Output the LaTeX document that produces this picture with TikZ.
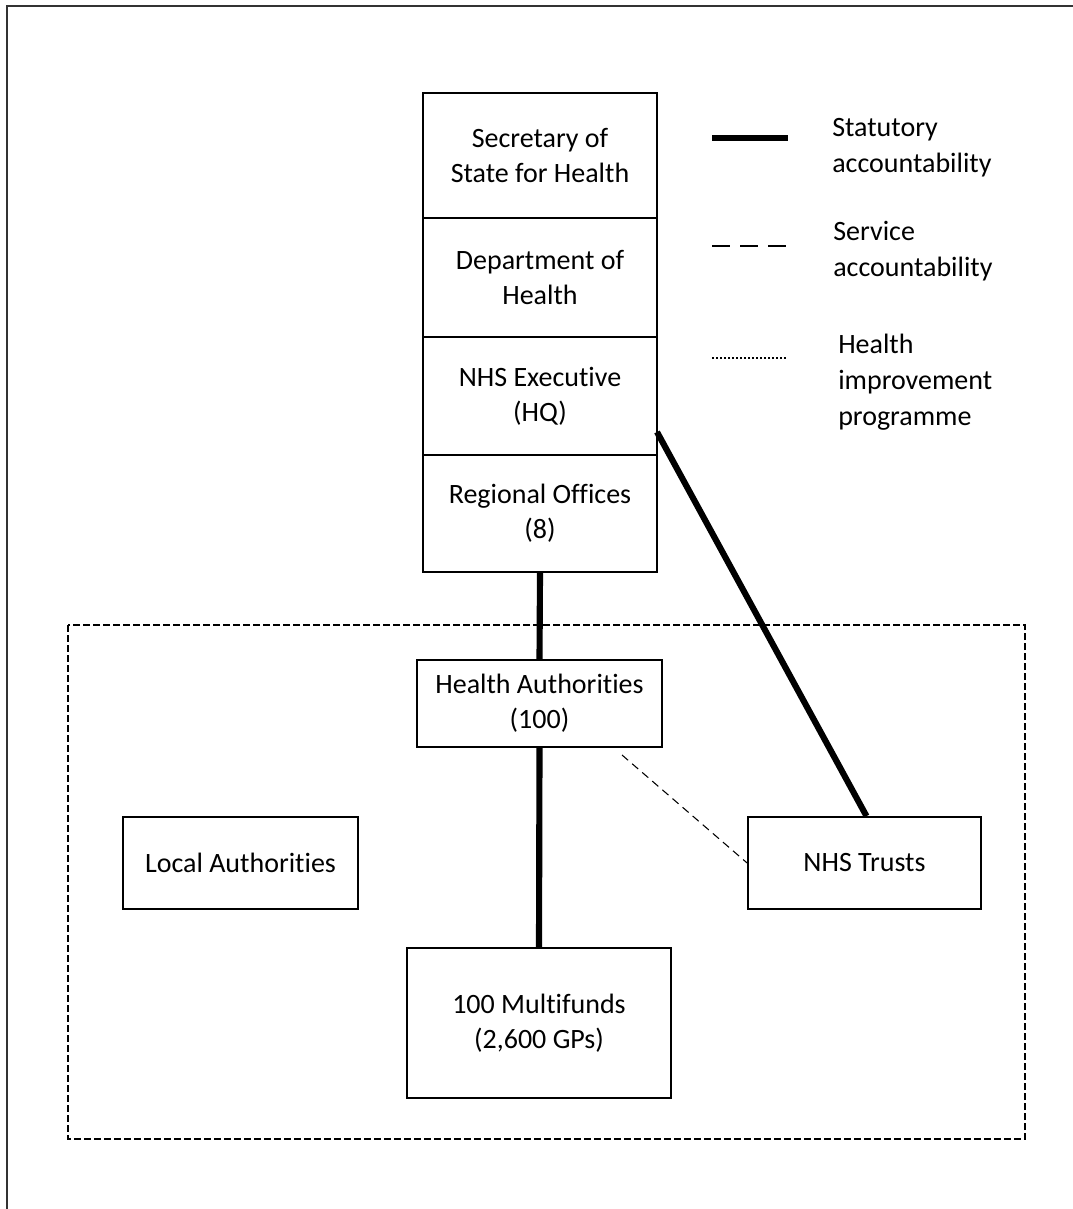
\documentclass[tikz,border=0pt]{standalone}
\usepackage{fontspec}
\setmainfont{Carlito}[Ligatures={NoCommon}]
\usetikzlibrary{calc}
\tikzset{
  box/.style={draw, line width=1.3pt, align=center, inner sep=0pt,
    font=\fontsize{21}{26.5}\selectfont},
  thickline/.style={line width=4.6pt},
  servline/.style={line width=0.8pt, dash pattern=on 6pt off 4pt},
  legtext/.style={anchor=west, align=left, inner sep=0pt,
    font=\fontsize{21}{27}\selectfont},
}
\begin{document}
\begin{tikzpicture}[x=0.75pt, y=-0.75pt]
\useasboundingbox (0,0) rectangle (1072,1209);
% outer frame (left and top edges visible)
\draw[line width=1.4pt, black!80] (7,1215) -- (7,6) -- (1080,6);
% big dashed region
\draw[line width=1.6pt, dash pattern=on 5pt off 2.5pt] (68,625) rectangle (1025,1139);
% stack
\node[box, minimum width=175.5pt, minimum height=93.75pt] (ss) at (540,155.5) {Secretary of\\State for Health};
\node[box, minimum width=175.5pt, minimum height=89.25pt] (dh) at (540,277.5) {Department of\\Health};
\node[box, minimum width=175.5pt, minimum height=88.5pt] (ex) at (540,396) {NHS Executive\\(HQ)};
\node[box, minimum width=175.5pt, minimum height=87.75pt] (ro) at (540,513.5) {Regional Offices\\(8)};
% lower nodes
\node[box, fill=white, minimum width=183.75pt, minimum height=65.25pt] (ha) at (539.5,703.5) {Health Authorities\\(100)};
\node[box, minimum width=198pt, minimum height=112.5pt] (mf) at (539,1023) {100 Multifunds\\(2,600 GPs)};
\node[box, minimum width=176.25pt, minimum height=69pt] (la) at (240.5,863) {Local Authorities};
\node[box, minimum width=174.75pt, minimum height=69pt] (nhs) at (864.5,863) {NHS Trusts};
% connectors
\draw[thickline] (ro.south) -- (ha.north);
\draw[thickline] (ha.south) -- (mf.north);
\coordinate (exr) at (657,432);
\draw[thickline] (exr) -- ($(nhs.north)+(2,0)$);
\coordinate (has) at (622,755);
\draw[servline] (has) -- (nhs.west);
% legend
\coordinate (l1a) at (712,138); \coordinate (l1b) at (788,138);
\draw[line width=4pt] (l1a) -- (l1b);
\node[legtext] (t1) at (832,148) {Statutory\\accountability};
\coordinate (l2a) at (712,246); \coordinate (l2b) at (788,246);
\draw[line width=1.3pt, dash pattern=on 13.5pt off 7.5pt] (l2a) -- (l2b);
\node[legtext] (t2) at (833,251) {Service\\accountability};
\coordinate (l3a) at (712,358); \coordinate (l3b) at (786,358);
\draw[line width=1.3pt, dash pattern=on 1.2pt off 1.8pt] (l3a) -- (l3b);
\node[legtext] (t3) at (838,382) {Health\\improvement\\programme};
\end{tikzpicture}
\end{document}
